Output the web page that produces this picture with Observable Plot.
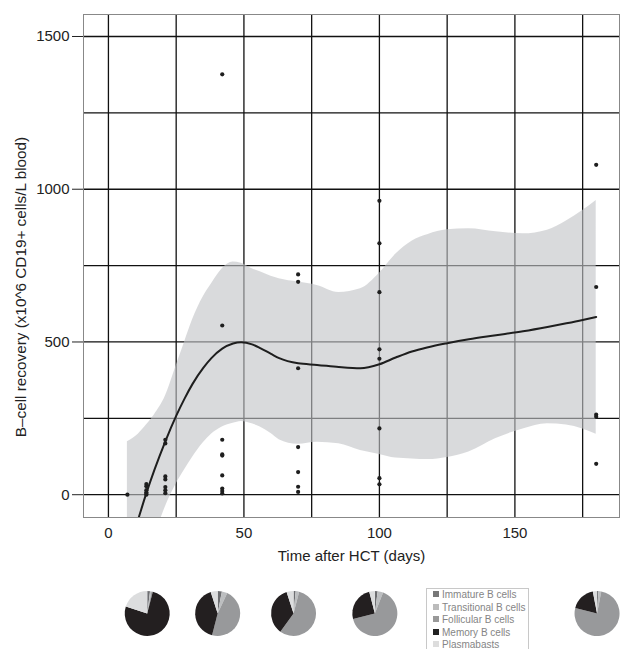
<!DOCTYPE html>
<html><head><meta charset="utf-8">
<script src="https://cdn.jsdelivr.net/npm/d3@7"></script>
<script src="https://cdn.jsdelivr.net/npm/@observablehq/plot@0.6"></script>
<style>
body{margin:0;background:#fff;font-family:"Liberation Sans",Arial,sans-serif;}
#wrap{position:relative;width:621px;height:649px;overflow:hidden;background:#fff;}
#wrap svg{display:block;}
#legend{position:absolute;left:426px;top:588px;width:103px;height:70px;border:1px solid #c8c8c8;box-sizing:border-box;padding:0 0 0 6px;font-size:10px;color:#858585;line-height:12.5px;white-space:nowrap;overflow:visible;}
#legend .sw{display:inline-block;width:6px;height:6px;margin-right:3px;vertical-align:1px;}
</style></head><body><div id="wrap"><div id="legend"></div></div>
<script>
// Observations (days after HCT, B-cell count)
const obsDays = [7,
  14,14,14,14,14,14,
  21,21,21,21,21,21,21,
  42,42,42,42,42,42,42,42,42,
  70,70,70,70,70,70,70,
  100,100,100,100,100,100,100,100,
  180,180,180,180,180];
const obsValues = [0,
  35,28,15,8,3,0,
  180,168,60,50,25,15,5,
  1376,554,180,132,128,63,20,12,4,
  721,697,414,156,74,26,9,
  962,823,663,476,445,217,54,34,
  1080,680,262,255,101];

// Smoothed fit with confidence band
const fitDays  = [7,11,14,17,21,25,28,31,35,38,42,46,49,53,56,60,63,70,77,85,93,100,106,112,118,125,133,143,153,162,169,175,180];
const fitValues = [-195,-80,5,82,175,258,313,362,415,447,478,495,499,492,480,461,447,430,425,418,414,427,449,469,483,496,509,522,535,549,561,572,582];
const upperValues = [173,198,228,262,322,422,497,572,648,690,740,762,758,740,730,715,707,696,685,662,674,725,787,830,852,867,871,861,854,866,896,930,963];
const lowerValues = [-460,-330,-230,-140,-40,35,80,122,170,198,222,234,240,232,222,200,180,165,172,167,145,132,120,117,115,122,140,184,215,232,228,215,198];

const xTicks = [0,50,100,150];
const yTicks = [0,500,1000,1500];
const xGrid = [0,25,50,75,100,125,150,175];
const yGrid = [0,250,500,750,1000,1250,1500];
const xLabel = "Time after HCT (days)";
const yLabel = "B\u2013cell recovery (x10^6 CD19+ cells/L blood)";

// Pie charts of B-cell subsets
const pieDays = [14.5, 40.5, 68.5, 98.5, 180.5];
const cellTypes = ["Immature B cells","Transitional B cells","Follicular B cells","Memory B cells","Plasmabasts"];
const cellColors = ["#6d6e71","#bcbec0","#98999b","#231f20","#dcddde"];
const immature     = [2, 3, 1.5, 2, 1];
const transitional = [1, 4, 2.5, 4, 2];
const follicular   = [1, 47, 56, 65, 76];
const memory       = [76, 41, 35, 25, 18];
const plasmablasts = [20, 5, 5, 4, 3];

const xDomain = [-9.2, 188.6];
const yDomain = [-74.6, 1572];
const font = '"Liberation Sans", Arial, sans-serif';

const fitRows = fitDays.map((d,i)=>({day:d, fit:fitValues[i], lo:lowerValues[i], hi:upperValues[i]}));
const obsRows = obsDays.map((d,i)=>({day:d, value:obsValues[i]}));

const main = Plot.plot({
  width:621, height:575, marginLeft:83, marginRight:2, marginTop:14, marginBottom:58,
  style:{fontFamily:font, fontSize:"15px", color:"#222", background:"#fff"},
  x:{domain:xDomain}, y:{domain:yDomain},
  marks:[
    Plot.ruleX(xGrid,{stroke:"#111", strokeWidth:1.3}),
    Plot.ruleY(yGrid,{stroke:"#111", strokeWidth:1.3}),
    Plot.areaY(fitRows,{x:"day", y1:"lo", y2:"hi", fill:"#c2c3c6", fillOpacity:0.62, curve:"monotone-x", clip:true}),
    Plot.line(fitRows,{x:"day", y:"fit", stroke:"#1e1e1e", strokeWidth:2, curve:"monotone-x", clip:true}),
    Plot.dot(obsRows,{x:"day", y:"value", r:2.1, fill:"#1e1e1e", stroke:null}),
    Plot.frame({stroke:"#888"}),
    Plot.axisY(yTicks,{tickSize:11, tickPadding:3, label:null, stroke:"#222", fill:"#222", tickFormat:d=>String(d)}),
    Plot.axisX(xTicks,{tickSize:0, tickPadding:10, label:null, fill:"#222", tickFormat:d=>String(d)}),
    Plot.text([yLabel],{frameAnchor:"left", textAnchor:"middle", rotate:-90, dx:-62, dy:21, fontSize:15.3, fill:"#222"}),
    Plot.text([xLabel],{frameAnchor:"bottom", dy:43, fontSize:15, fill:"#222"})
  ]
});

const pieRows = pieDays.map((d,i)=>({day:d, vals:[immature[i],transitional[i],follicular[i],memory[i],plasmablasts[i]]}));
const pies = Plot.plot({
  width:621, height:74, marginLeft:83, marginRight:2, marginTop:0, marginBottom:0,
  style:{background:"transparent"},
  x:{domain:xDomain, axis:null}, y:{domain:[0,1], axis:null},
  marks:[
    Plot.dot(pieRows,{x:"day", y:()=>0.48, r:0, fillOpacity:0, stroke:null}),
    (index, scales) => {
      const g = d3.create("svg:g");
      const pie = d3.pie().sort(null);
      const arc = d3.arc().innerRadius(0).outerRadius(22.5);
      pieRows.forEach(row => {
        const pg = g.append("g").attr("transform", `translate(${scales.x(row.day)},${scales.y(0.48)})`);
        pg.selectAll("path").data(pie(row.vals)).join("path")
          .attr("d", arc).attr("fill", (d,j)=>cellColors[j]);
      });
      return g.node();
    }
  ]
});

const wrap = document.getElementById("wrap");
wrap.insertBefore(main, wrap.firstChild);
wrap.insertBefore(pies, document.getElementById("legend"));
const legendColors = ["#777","#bbb","#999","#222","#ddd"];
const legend = document.getElementById("legend");
cellTypes.forEach((t,i)=>{
  const row = document.createElement("div");
  row.innerHTML = `<span class="sw" style="background:${legendColors[i]}"></span>${t}`;
  legend.appendChild(row);
});
</script>
</body></html>
